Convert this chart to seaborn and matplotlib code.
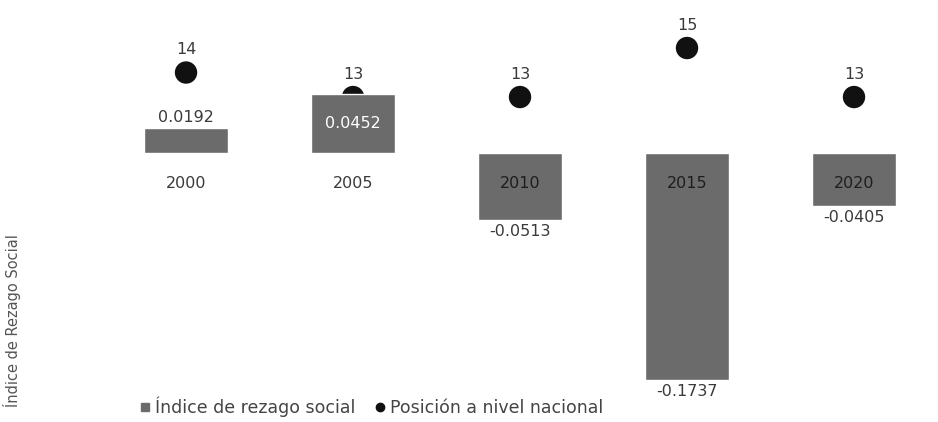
import numpy as np
import pandas as pd
import matplotlib
matplotlib.use("Agg")
import matplotlib.pyplot as plt
from matplotlib.lines import Line2D
import seaborn as sns

YEARS = ["2000", "2005", "2010", "2015", "2020"]
INDICE = [0.0192, 0.0452, -0.0513, -0.1737, -0.0405]
POSICION = [14, 13, 13, 15, 13]
LABEL_INSIDE = [False, True, False, False, False]

BAR_COLOR = "#6b6b6b"
TEXT_COLOR = "#3a3a3a"

sns.set_style("white")
plt.rcParams["font.family"] = ["DejaVu Sans"]

df = pd.DataFrame({"year": YEARS, "indice": INDICE, "posicion": POSICION})

fig = plt.figure(figsize=(9.38, 4.22), dpi=100)
ax = fig.add_axes([0, (422 - 395) / 422, 1, 395 / 422])

sns.barplot(data=df, x="year", y="indice", color=BAR_COLOR, width=0.5,
            saturation=1, ax=ax)
ax.set_ylim(-0.185, 0.117)
ax.set_xlim(-1.114, 4.503)
ax.set_xlabel("")
ax.set_ylabel("")
ax.set_xticks([])
ax.set_yticks([])
for s in ax.spines.values():
    s.set_visible(False)

# year labels sit just under the zero line
for i, yr in enumerate(YEARS):
    ax.text(i, -0.023, yr, ha="center", va="center", fontsize=11.5,
            color=TEXT_COLOR if INDICE[i] > 0 else "#1e1e1e")

# value labels
for i, v in enumerate(INDICE):
    if v > 0 and not LABEL_INSIDE[i]:
        ax.text(i, v + 0.002, f"{v:.4f}", ha="center", va="bottom",
                fontsize=11.5, color=TEXT_COLOR)
    elif v > 0:
        ax.text(i, v * 0.5, f"{v:.4f}", ha="center", va="center",
                fontsize=11.5, color="white")
    else:
        ax.text(i, v - 0.003, f"{v:.4f}", ha="center", va="top",
                fontsize=11.5, color=TEXT_COLOR)

ax2 = ax.twinx()
sns.scatterplot(x=np.arange(len(YEARS)), y=POSICION, color="#111111", s=260,
                edgecolor="none", ax=ax2)
ax2.set_ylim(0.84, 16.96)
ax2.set_yticks([])
for s in ax2.spines.values():
    s.set_visible(False)
for i, p in enumerate(POSICION):
    ax2.text(i, p + 0.62, str(p), ha="center", va="bottom", fontsize=11.5,
             color=TEXT_COLOR)

# bars drawn over the dots, as in the original
ax.set_zorder(ax2.get_zorder() + 1)
ax.patch.set_visible(False)

fig.text(0.013, 0.24, "Índice de Rezago Social", rotation=90, ha="center",
         va="center", fontsize=10.5, color="#555555")

handles = [
    Line2D([], [], marker="s", linestyle="none", color=BAR_COLOR, markersize=6),
    Line2D([], [], marker="o", linestyle="none", color="#111111", markersize=6),
]
fig.legend(handles, ["Índice de rezago social", "Posición a nivel nacional"],
           loc="center left", bbox_to_anchor=(0.13, 0.035), ncol=2, frameon=False,
           fontsize=12.5, handletextpad=0.2, columnspacing=1.0, handlelength=0.8,
           labelcolor="#444444")

fig.savefig("out.png", dpi=100)
